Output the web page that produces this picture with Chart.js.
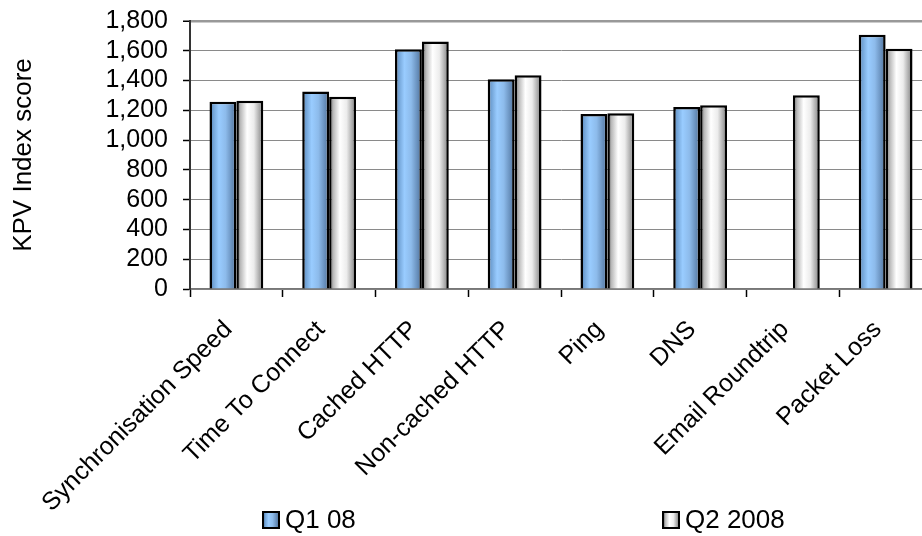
<!DOCTYPE html>
<html>
<head>
<meta charset="utf-8">
<script src="https://cdn.jsdelivr.net/npm/chart.js@4/dist/chart.umd.min.js"></script>
<style>
  html, body { margin: 0; padding: 0; background: #fff; overflow: hidden; }
  #wrap { width: 922px; height: 536px; overflow: hidden; }
</style>
</head>
<body>
<div id="wrap"><canvas id="grafico" width="940" height="536"></canvas></div>
<script>
// KPV index por categoria
const categorias = ['Synchronisation Speed', 'Time To Connect', 'Cached HTTP', 'Non-cached HTTP',
                    'Ping', 'DNS', 'Email Roundtrip', 'Packet Loss'];
const serieQ1 = [1258, 1326, 1611, 1409, 1175, 1222, null, 1708];
const serieQ2 = [1265, 1292, 1663, 1436, 1180, 1234, 1301, 1613];
const nomesSeries = ['Q1 08', 'Q2 2008'];
const yMin = 0, yMax = 1800, yPasso = 200;

const FONTE = 'Liberation Sans, Arial, sans-serif';

// degradês horizontais das barras (estilo Excel)
const paradasAzul = [[0, '#3a5c84'], [0.12, '#6e9fd2'], [0.35, '#99ccff'], [0.6, '#8dbbeb'], [1, '#4d709a']];
const paradasCinza = [[0, '#505050'], [0.15, '#b8b8b8'], [0.4, '#ffffff'], [0.65, '#ececec'], [1, '#7c7c7c']];

function degrade(ctx, x0, x1, paradas) {
    const g = ctx.createLinearGradient(x0, 0, x1, 0);
    paradas.forEach(p => g.addColorStop(p[0], p[1]));
    return g;
}

// aplica o degradê em cada barra antes de desenhar
const pluginDegrade = {
    id: 'degrade',
    beforeDatasetsDraw(chart) {
        chart.data.datasets.forEach((ds, i) => {
            const meta = chart.getDatasetMeta(i);
            meta.data.forEach(el => {
                if (!el || isNaN(el.x)) return;
                const x0 = el.x - el.width / 2;
                el.options = Object.assign({}, el.options, {
                    backgroundColor: degrade(chart.ctx, x0, x0 + el.width, ds.paradas)
                });
            });
        });
    }
};

// legenda desenhada à mão, itens bem separados
const pluginLegenda = {
    id: 'legendaManual',
    afterDraw(chart, args, opts) {
        const ctx = chart.ctx;
        ctx.save();
        ctx.font = opts.fonte;
        ctx.textBaseline = 'middle';
        chart.data.datasets.forEach((ds, i) => {
            const x = opts.xs[i], y = opts.y, t = opts.caixa;
            ctx.fillStyle = degrade(ctx, x, x + t, ds.paradas);
            ctx.fillRect(x, y - t / 2, t, t);
            ctx.lineWidth = 2;
            ctx.strokeStyle = '#000';
            ctx.strokeRect(x, y - t / 2, t, t);
            ctx.fillStyle = '#000';
            ctx.fillText(ds.label, x + t + 6, y + 1);
        });
        ctx.restore();
    }
};

new Chart(document.getElementById('grafico'), {
    type: 'bar',
    data: {
        labels: categorias,
        datasets: [
            { label: nomesSeries[0], data: serieQ1, paradas: paradasAzul,
              backgroundColor: '#99ccff', borderColor: '#000', borderWidth: 2.5 },
            { label: nomesSeries[1], data: serieQ2, paradas: paradasCinza,
              backgroundColor: '#eeeeee', borderColor: '#000', borderWidth: 2.5 }
        ]
    },
    options: {
        responsive: false,
        animation: false,
        devicePixelRatio: 1,
        categoryPercentage: 0.58,
        barPercentage: 1,
        layout: { padding: { top: 21, right: 8, left: 0, bottom: 0 } },
        plugins: {
            legend: { display: false },
            tooltip: { enabled: false },
            legendaManual: { xs: [263, 663], y: 520, caixa: 16, fonte: '26px ' + FONTE }
        },
        scales: {
            x: {
                afterFit(scale) { scale.height = 247; },
                grid: { drawOnChartArea: false, offset: true, tickLength: 8, tickColor: '#000', tickWidth: 1.5 },
                border: { color: '#777', width: 1.5 },
                ticks: {
                    autoSkip: false, minRotation: 45, maxRotation: 45, padding: 18, labelOffset: -8,
                    color: '#000', font: { family: FONTE, size: 25 }
                }
            },
            y: {
                min: yMin, max: yMax,
                afterFit(scale) {
                    scale.width = 190;
                    // o rótulo 1,800 pode ficar na margem de cima
                    scale.paddingTop = 0;
                    scale.paddingBottom = 0;
                },
                grid: {
                    color: ctx => ctx.tick && ctx.tick.value === yMax ? '#999' : '#8a8a8a',
                    lineWidth: ctx => ctx.tick && ctx.tick.value === yMax ? 2.5 : 1,
                    tickLength: 7, tickColor: '#000', tickWidth: 1.5
                },
                border: { color: '#333', width: 2 },
                ticks: {
                    autoSkip: false, stepSize: yPasso, padding: 15, color: '#000',
                    font: { family: FONTE, size: 25 },
                    callback: v => v.toLocaleString('en-US')
                },
                title: {
                    display: true, text: 'KPV Index score', color: '#000',
                    font: { family: FONTE, size: 26 },
                    padding: { top: 8, bottom: 0 }
                }
            }
        }
    },
    plugins: [pluginDegrade, pluginLegenda]
});
</script>
</body>
</html>
